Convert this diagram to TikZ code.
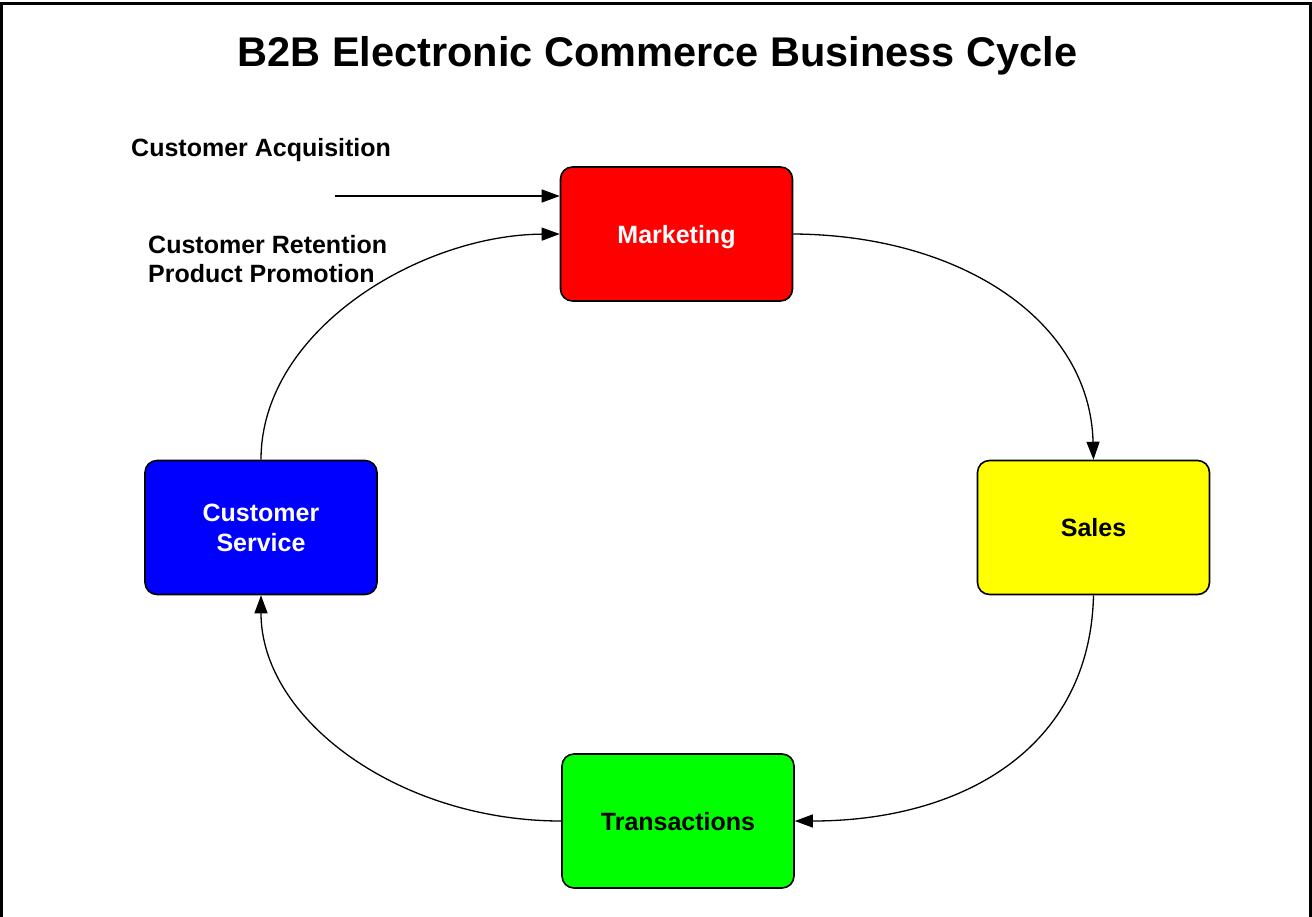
\documentclass[tikz,border=0pt]{standalone}
\usepackage{fontspec}
\setmainfont{Liberation Sans}
\usetikzlibrary{arrows.meta}
\definecolor{mkred}{RGB}{255,0,0}
\definecolor{slyellow}{RGB}{255,255,0}
\definecolor{csblue}{RGB}{0,0,255}
\definecolor{trgreen}{RGB}{0,255,0}
\tikzset{
  stage/.style={draw=black, line width=1.6pt, rounded corners=12pt,
    minimum width=232pt, minimum height=134pt, inner sep=0pt, text depth=0pt,
    align=center, font=\fontsize{25}{30}\selectfont\bfseries},
  flow/.style={line width=1.3pt, -{Triangle[length=18pt,width=13pt]}},
  caption/.style={font=\fontsize{25}{29}\selectfont\bfseries, align=left, inner sep=0pt},
}
\begin{document}
\begin{tikzpicture}[x=1pt,y=-1pt]
  \useasboundingbox (0,0) rectangle (1312,916);
  % outer frame, open at the bottom edge of the page
  \draw[line width=3pt] (1.5,930) -- (1.5,3.5) -- (1310.5,3.5) -- (1310.5,930);

  % title
  \node[anchor=base, font=\fontsize{41.5}{50}\selectfont\bfseries] (title) at (657.5,66)
    {B2B Electronic Commerce Business Cycle};

  % the four stages
  \node[stage, fill=mkred, text=white] (mk) at (676.5,234) {Marketing};
  \node[stage, fill=slyellow] (sl) at (1093.5,527.5) {Sales};
  \node[stage, fill=trgreen] (tr) at (678,821) {Transactions};
  \node[stage, fill=csblue, text=white] (cs) at (261,527.5) {Customer\\Service};

  % side captions
  \node[caption, anchor=base west] (acqtxt) at (131,156) {Customer Acquisition};
  \node[caption, anchor=base west] (rettxt) at (148,282) {Customer Retention\\Product Promotion};

  % acquisition input
  \coordinate (acq) at (335,196);
  \draw[flow] (acq) -- (acq -| mk.west);

  % the cycle
  \draw[flow] (mk.east) .. controls (960,235) and (1090,320) .. (sl.north);
  \draw[flow] (sl.south) .. controls (1090,750) and (960,821) .. (tr.east);
  \draw[flow] (tr.west) .. controls (400,821) and (261,720) .. (cs.south);
  \draw[flow] (cs.north) .. controls (261,330) and (420,235) .. (mk.west);
\end{tikzpicture}
\end{document}
